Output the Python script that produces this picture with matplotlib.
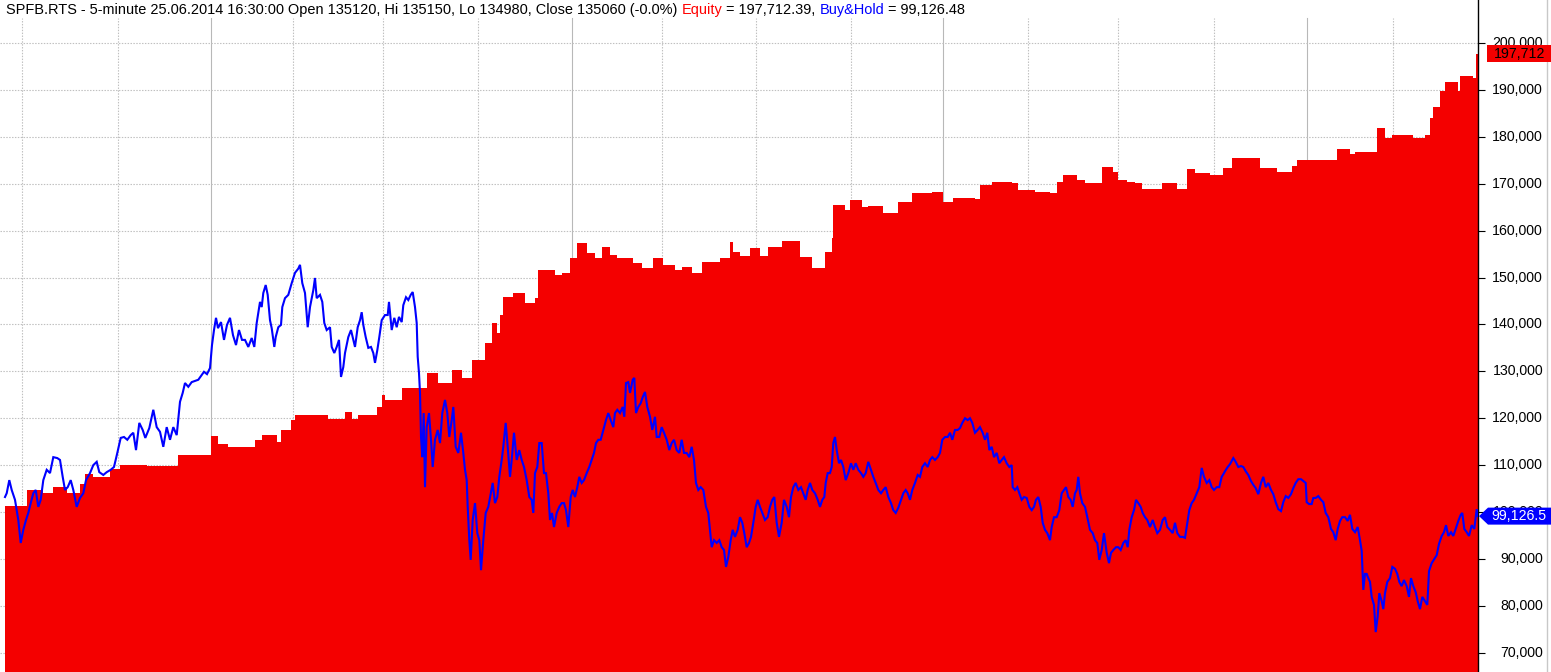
import numpy as np
import matplotlib
matplotlib.use("Agg")
import matplotlib.pyplot as plt
from matplotlib.transforms import IdentityTransform
from matplotlib.patches import Polygon, Rectangle
from matplotlib.lines import Line2D

# ---------------- DATA ----------------
title_info = "SPFB.RTS - 5-minute 25.06.2014 16:30:00 Open 135120, Hi 135150, Lo 134980, Close 135060 (-0.0%)"
final_equity = 197712.39
final_bh = 99126.48

# Equity: step levels (bar index where the level starts, value in thousands)
eq_bar = [5, 27, 43, 53, 67, 80, 85, 93, 110, 120, 147, 178, 211, 218, 228, 255, 262, 277, 281, 291,
          295, 328, 345, 352, 358, 377, 382, 385, 402, 427, 438, 452, 462, 472, 485, 492, 497, 500, 503, 513,
          525, 535, 538, 555, 562, 570, 577, 587, 595, 602, 610, 617, 633, 642, 653, 663, 675, 682, 692, 702,
          720, 730, 733, 740, 750, 760, 768, 782, 800, 812, 825, 832, 833, 845, 850, 862, 868, 883, 898, 912,
          932, 943, 953, 975, 980, 992, 1012, 1018, 1035, 1050, 1057, 1063, 1077, 1085, 1102, 1113, 1118, 1127, 1135, 1142,
          1162, 1177, 1187, 1195, 1210, 1223, 1232, 1260, 1277, 1292, 1297, 1337, 1350, 1355, 1377, 1385, 1392, 1413, 1425, 1430,
          1433, 1440, 1445, 1458, 1460, 1473, 1476]
eq_val = [101.3, 104.7, 104.0, 105.3, 104.0, 106.0, 108.1, 107.5, 109.2, 110.0, 109.8, 112.2, 116.2, 114.5, 113.9, 115.3, 116.4, 114.9, 117.5, 119.6,
          120.7, 119.8, 121.3, 119.8, 120.7, 122.4, 124.9, 123.9, 126.4, 129.6, 127.5, 130.3, 128.6, 132.4, 136.0, 140.3, 138.2, 142.0, 145.8, 146.7,
          144.6, 145.6, 151.6, 150.5, 151.0, 154.2, 157.4, 155.2, 154.2, 156.5, 154.8, 154.2, 153.1, 152.0, 154.2, 152.7, 151.6, 152.2, 151.0, 153.3,
          154.2, 157.6, 155.5, 154.6, 156.3, 154.6, 156.5, 157.8, 154.4, 152.0, 155.4, 158.4, 165.5, 164.4, 166.5, 165.0, 165.2, 163.8, 166.1, 168.0,
          168.2, 166.1, 167.0, 166.7, 169.7, 170.4, 170.1, 168.7, 168.2, 168.0, 170.4, 171.9, 170.8, 170.1, 173.6, 172.5, 170.8, 170.4, 170.1, 168.9,
          170.1, 168.9, 173.1, 172.3, 171.9, 173.3, 175.5, 173.3, 172.5, 173.8, 175.1, 177.4, 176.3, 176.8, 181.9, 179.7, 180.4, 179.7, 180.4, 184.0,
          186.4, 189.7, 191.7, 189.7, 193.0, 192.5, 197.712]
last_bar = 1478

# Buy & Hold (bar index, value in thousands)
bh_bar = [
    5, 6.7, 9.3, 11.7, 15, 18.3, 20.7, 23.3, 26, 28.3, 30.7, 33.3, 35.7, 38.3, 40.7, 43.3, 46.7, 50, 53.3, 57.3,
    60, 62.7, 65, 67.7, 70.7, 73.3, 76.7, 80, 83.3, 86, 90, 93.3, 96.7, 99.3, 103.3, 106.7, 110.7, 114, 117.3, 120.7,
    124, 127.3, 130.7, 133.3, 136, 139.3, 142.7, 145.3, 149.3, 153.3, 156.7, 160, 163.3, 166.7, 170, 173.3, 176.7, 180, 182.7, 185,
    188.3, 191.7, 198.3,
    201, 204, 207, 210, 212, 214, 216, 218, 221, 224, 227, 230, 233, 236, 239, 242,
    245, 248.3, 251.7, 254.3, 256.7, 260, 261.7, 263.3, 265.7, 267.7,
    270, 271.7, 274.3, 275.7, 278.3, 281, 282.3, 285, 288.3, 291.7,
    295, 298.3, 300, 302.3, 305, 307.7, 310, 313.3, 315, 316.7,
    320, 322.3, 324.3, 326.7, 330, 331.7, 334.3, 336.7, 339, 341,
    343.3, 345, 348.3, 351, 353.3, 355, 357.7, 360, 361.7, 363.3,
    365.7, 368.3, 371, 373.3, 375, 377.3, 379.3, 381.7, 385, 387.7,
    389, 391.7, 394.3, 396.7, 399, 401.7, 403.3, 406, 408.3, 410.7,
    412.7, 415, 416.7, 417.7, 419, 420, 421, 422.3, 423.7, 425,
    426.7, 429, 431, 432.7, 435, 437.7, 440, 442.3, 445, 447.3,
    449.3, 451.7, 453.3, 455.7, 458.3, 461, 463.3, 465, 466.7, 467.7,
    469.3, 470.7, 472.7, 475, 477.3, 479.3, 481, 483.3, 485.7, 488.3,
    492.7, 495, 497.3, 499.3, 501.7, 503.3, 505.7, 507.7, 510, 511.7,
    514, 516.7, 519.3, 521.7, 524, 526.7, 529.3, 531.7, 533.3, 535,
    537.3, 539.3, 541.7, 544, 546, 548.3, 550, 552, 554, 556.7,
    559.3, 561.7, 564, 566, 568.3, 570.7, 572.7, 575, 577.3, 579.3,
    581.7, 584, 586.7, 589.3, 591.7, 594, 596, 598.3, 600.7, 603.3,
    606, 608.3, 610.7, 613.3, 615, 617.3, 620, 622.7, 624.3, 626,
    628.3, 630, 632.7, 634.3, 636, 638.3, 640.7, 642.7, 645, 647.3,
    650, 652.3, 655, 656.7, 659.3, 661.7, 664, 666.7, 669.3, 671.7,
    674, 676.7, 679.3, 681.7, 684, 686.7, 689.3, 691.7, 694, 696,
    698.3, 700.7, 703.3, 706, 708.3, 710, 711.7, 714, 716.7, 719.3,
    721.7, 724, 726, 728.3, 730.7, 732.7,
    735, 737.7, 740, 742.3, 744.3, 746.7, 749, 751, 753.3, 755.7,
    757.7, 760, 762.3, 765, 767.7, 770, 772.3, 774.3, 776.7, 779,
    781.7, 784, 786.7, 789, 791, 793.3, 795.7, 798.3, 801, 803.3,
    805.7, 807.7, 810, 812.3, 815, 817.7, 820, 822.3, 824.3, 825.7,
    827.7, 830, 831.7, 833.3, 835, 836.7, 839, 841, 843.3, 845.7,
    848.3, 851, 853.3, 855.7, 858.3, 861, 863.3, 865.7, 868.3, 871,
    873.3, 875.7, 878.3, 881, 883.3, 885.7, 888.3, 891, 893.3, 895.7,
    898.3, 901, 903.3, 905.7, 907.7, 910, 912.3, 915, 917.7, 920,
    922.3, 925, 927.7, 930, 932.3, 935, 937.7, 940, 942.3, 945,
    947.7, 950, 952.3, 955, 957.7, 960, 962.3, 965, 967.7, 970,
    972.3, 975, 977.7, 980,
    982.7, 985, 987.3, 989.3, 991.7, 994, 996.7, 999.3, 1001.7, 1004,
    1006.7, 1009.3, 1011.7, 1012.7, 1015, 1017.3, 1019.3, 1021.7, 1024, 1026.7,
    1029.3, 1031.7, 1034, 1036, 1038.3, 1040.7, 1042.7, 1045, 1047.3, 1050,
    1051.7, 1054, 1056.7, 1059.3, 1061.7, 1064, 1066, 1068.3, 1070.7, 1072.7,
    1075, 1076.7, 1078.3, 1080, 1082.3, 1085, 1087.3, 1090, 1092.7, 1095,
    1097.3, 1099.3, 1101.7, 1104, 1106.7, 1109, 1111, 1113.3, 1116, 1118.3,
    1120.7, 1123.3, 1125.7, 1127.7, 1129.3, 1131.7, 1134, 1136, 1138.3, 1140.7,
    1142.7, 1145, 1147.3, 1150, 1152.7, 1155, 1157.3, 1160, 1162.7, 1165,
    1167.3, 1170, 1172.7, 1175, 1177.3, 1180, 1182.7, 1185, 1187.3, 1189.3,
    1191.7, 1194, 1196.7, 1199.3, 1201.7, 1204, 1206.7, 1209.3, 1211.7, 1214,
    1216.7, 1219.3, 1221.7, 1224,
    1225, 1227.7, 1230, 1233.3, 1235.7, 1238.3, 1241, 1243.3, 1245.7, 1248.3,
    1251, 1253.3, 1255.7, 1258.3, 1261, 1263.3, 1265.7, 1268.3, 1271, 1273.3,
    1275.7, 1278.3, 1281, 1283.3, 1285.7, 1288.3, 1291, 1293.3, 1295.7, 1298.3,
    1301, 1303.3, 1305.7, 1306.7, 1309, 1311.7, 1313.3, 1315.7, 1318.3, 1321,
    1323.3, 1325.7, 1328.3, 1331, 1333.3, 1335.7, 1337.7, 1340, 1342.3, 1345,
    1347.7, 1350, 1352.3, 1355, 1357.7, 1360, 1361.7, 1363.3, 1365, 1366.7,
    1368.3, 1370, 1371.7, 1374, 1375.7, 1377.7, 1379.3, 1381.7, 1383.3, 1385,
    1387.3, 1390, 1392.3, 1395, 1397.3, 1399.3, 1401.7, 1404, 1406.7, 1409,
    1411, 1413.3, 1415.7, 1417.7, 1420, 1422.3, 1425, 1427.3, 1429, 1431.7,
    1434.3, 1436.7, 1439, 1441.7, 1444, 1446, 1448.3, 1451, 1453.3, 1455.7,
    1458.3, 1460.7, 1462.3, 1464.3, 1466.7, 1469, 1471.7, 1474.3, 1476.7, 1478]
bh_val = [
    103.2, 104.0, 106.8, 104.7, 102.6, 98.3, 93.4, 96.2, 98.3, 99.8, 101.9, 104.0, 104.7, 101.1, 102.6, 106.8, 109.0, 108.3, 111.7, 111.5,
    111.1, 107.5, 104.7, 105.3, 106.8, 104.7, 101.1, 103.0, 104.0, 106.8, 108.3, 110.0, 110.7, 108.5, 107.9, 108.5, 109.0, 109.6, 112.6, 115.8,
    116.0, 115.4, 116.4, 116.9, 113.2, 119.0, 117.5, 115.8, 117.9, 121.8, 118.1, 117.1, 113.9, 118.1, 115.4, 118.1, 116.4, 123.5, 125.4, 127.5,
    126.7, 127.7, 128.2,
    129.0, 129.9, 129.4, 130.7, 135.6, 138.8, 141.4, 139.2, 140.5, 136.7, 139.9, 141.4, 137.7, 135.6, 138.8, 136.7,
    136.7, 135.2, 137.1, 135.2, 140.3, 144.8, 143.7, 146.7, 148.4, 146.3,
    140.9, 139.2, 135.2, 137.3, 139.4, 139.9, 143.7, 145.6, 146.3, 148.8,
    151.0, 151.9, 152.7, 148.8, 146.7, 139.4, 143.7, 147.3, 149.9, 145.6,
    146.3, 144.8, 140.3, 138.8, 139.4, 135.2, 133.9, 135.2, 136.7, 128.8,
    130.9, 133.9, 137.3, 138.8, 136.7, 135.2, 139.4, 140.9, 142.6, 139.9,
    137.3, 135.0, 135.2, 133.9, 131.8, 134.5, 137.3, 140.9, 142.0, 142.0,
    144.8, 138.8, 141.4, 139.4, 141.6, 140.5, 144.1, 145.8, 145.2, 146.3,
    146.9, 143.7, 140.3, 133.1, 129.6, 125.4, 116.0, 111.7, 121.1, 105.3,
    118.1, 121.1, 115.4, 109.6, 115.4, 117.5, 114.7, 121.1, 123.9, 121.1,
    116.0, 119.6, 122.4, 113.9, 112.6, 116.9, 112.6, 109.0, 106.8, 101.1,
    94.0, 89.8, 98.3, 101.9, 95.5, 94.0, 87.6, 94.0, 99.8, 101.1,
    106.2, 101.9, 103.2, 107.5, 111.1, 113.9, 119.0, 113.9, 107.5, 111.1,
    116.9, 111.1, 113.2, 111.1, 109.6, 106.8, 103.2, 102.6, 99.8, 108.3,
    109.6, 114.7, 114.7, 108.3, 108.3, 104.0, 98.3, 99.8, 96.8, 99.8,
    101.1, 101.9, 101.9, 100.4, 96.8, 103.2, 104.7, 103.2, 105.3, 107.5,
    106.2, 106.8, 108.3, 109.6, 111.1, 112.6, 114.7, 115.4, 115.4, 117.5,
    119.6, 121.1, 119.6, 118.1, 121.1, 121.8, 121.1, 122.4, 120.3, 127.5,
    127.7, 125.4, 128.2, 128.6, 121.1, 122.4, 123.2, 124.5, 125.6, 122.4,
    120.3, 117.5, 120.3, 116.0, 116.0, 118.1, 116.9, 115.4, 113.2, 114.7,
    115.4, 113.2, 112.6, 115.4, 112.6, 112.6, 111.7, 113.9, 111.1, 106.2,
    104.7, 105.3, 104.7, 101.1, 99.8, 96.2, 92.5, 94.0, 93.4, 94.0,
    92.5, 91.9, 88.3, 90.4, 94.0, 96.2,
    94.7, 96.2, 98.9, 97.7, 95.5, 92.5, 93.4, 94.7, 97.7, 101.1,
    102.6, 101.1, 99.8, 98.3, 98.9, 101.1, 102.6, 103.2, 97.7, 94.7,
    97.7, 102.6, 101.1, 98.9, 103.2, 105.3, 106.2, 104.7, 105.3, 104.0,
    102.6, 104.7, 106.2, 104.7, 104.0, 102.6, 101.1, 102.6, 103.2, 106.2,
    108.3, 108.3, 109.6, 114.7, 116.0, 113.2, 110.4, 111.1, 109.6, 106.8,
    108.3, 110.4, 109.0, 110.4, 109.0, 108.3, 107.5, 108.3, 110.7, 109.0,
    107.5, 106.2, 104.7, 104.0, 104.7, 105.3, 103.2, 101.9, 100.4, 99.8,
    100.9, 102.6, 104.0, 104.7, 104.0, 102.6, 104.7, 106.2, 107.9, 107.5,
    109.6, 110.4, 109.6, 111.1, 111.7, 111.1, 111.7, 112.6, 115.4, 116.0,
    116.0, 116.9, 115.4, 117.5, 117.5, 117.9, 119.0, 120.0, 119.6, 120.0,
    119.0, 116.9, 117.5, 118.1,
    116.9, 115.4, 116.9, 113.2, 113.9, 111.7, 112.6, 110.4, 111.1, 111.7,
    110.4, 109.6, 110.0, 105.3, 104.7, 105.3, 104.0, 102.6, 103.2, 103.0,
    101.1, 100.4, 101.1, 102.6, 103.2, 101.1, 97.7, 96.2, 95.5, 94.0,
    96.8, 98.9, 98.9, 100.4, 104.0, 104.7, 105.3, 103.2, 102.6, 101.1,
    104.0, 104.7, 107.5, 104.0, 101.9, 101.1, 98.9, 96.2, 95.5, 94.0,
    93.4, 89.8, 91.9, 95.5, 91.3, 89.1, 91.3, 91.9, 92.5, 92.5,
    91.9, 93.4, 94.0, 92.5, 96.2, 98.9, 100.4, 102.6, 101.9, 101.1,
    99.8, 98.9, 98.3, 96.8, 98.3, 96.8, 95.5, 96.2, 98.3, 98.9,
    96.8, 96.2, 95.5, 97.7, 95.5, 94.7, 94.7, 94.5, 97.7, 100.4,
    101.9, 102.6, 104.0, 105.3, 109.4, 107.5, 106.2, 106.8, 105.3, 104.7,
    105.3, 105.3, 107.5, 108.3,
    108.7, 109.6, 110.2, 111.5, 110.7, 109.6, 109.8, 109.6, 108.7, 107.9,
    106.6, 105.8, 105.1, 103.8, 106.2, 107.5, 105.3, 106.2, 104.7, 103.8,
    102.1, 100.6, 100.2, 102.1, 103.4, 103.0, 103.8, 105.1, 106.2, 107.0,
    107.0, 106.6, 106.2, 102.1, 101.7, 101.7, 103.0, 103.0, 103.4, 102.6,
    102.1, 99.8, 98.9, 96.4, 95.7, 94.0, 96.4, 98.1, 98.9, 98.9,
    98.1, 99.4, 96.4, 95.7, 96.8, 94.0, 91.7, 83.4, 86.8, 86.8,
    85.9, 85.1, 81.9, 80.2, 74.4, 77.8, 82.7, 81.0, 79.3, 82.7,
    85.1, 85.9, 88.3, 87.9, 86.8, 85.1, 84.2, 85.5, 84.2, 81.9,
    85.9, 84.2, 82.9, 81.0, 79.3, 81.9, 81.0, 80.2, 87.4, 89.1,
    90.0, 90.8, 93.2, 94.9, 95.7, 97.2, 94.9, 95.7, 94.9, 96.4,
    98.1, 99.4, 99.8, 96.4, 95.7, 94.9, 97.2, 96.4, 100.6, 99.126]

# Date grid (bar indices of period boundaries); month boundaries drawn solid
grid_bars = [22, 118, 211, 293, 383, 478, 572, 662, 756, 851, 943, 1028, 1118, 1214, 1307, 1393]
month_bars = [211, 572, 943, 1307]
y_ticks = list(range(70000, 200001, 10000))

# ---------------- STYLE ----------------
RED = '#f40000'
BLUE = '#0000ff'
GRID = '#c0c0c0'
FONT = 'Liberation Sans'

W, H = 1551, 672
PLOT_R = 1478
fig = plt.figure(figsize=(W / 100, H / 100), dpi=100)
fig.patch.set_facecolor('white')
ax = fig.add_axes([0, 0, PLOT_R / W, 1])
ax.set_facecolor('white')
ax.set_xlim(0, PLOT_R)
ax.set_ylim(65890, 209170)

# grid
for t in grid_bars:
    solid = t in month_bars
    ax.axvline(t, ymin=0, ymax=1 - 18 / H, color='#b8b8b8' if solid else GRID,
               lw=0.8, ls='-' if solid else (0, (1.3, 1.3)), zorder=0)
for v in y_ticks:
    ax.axhline(v, color=GRID, lw=0.8, ls=(0, (1.3, 1.3)), zorder=0)

# equity area
ex = np.array(eq_bar + [last_bar], dtype=float)
ev = np.array(eq_val + [eq_val[-1]]) * 1000
ax.fill_between(ex, ev, 0, step='post', color=RED, lw=0, zorder=2)

# buy & hold line
bx = np.array(bh_bar, dtype=float)
bv = np.array(bh_val) * 1000
ax.plot(bx, bv, color=BLUE, lw=1.5, zorder=3, solid_joinstyle='miter')

# axes look
for s in ['left', 'top', 'bottom']:
    ax.spines[s].set_visible(False)
ax.spines['right'].set_color('black')
ax.spines['right'].set_linewidth(1.0)
ax.set_xticks([])
ax.yaxis.tick_right()
ax.set_yticks(y_ticks)
ax.tick_params(axis='y', which='both', direction='out', length=5, width=0.8,
               color='black', labelright=False, labelleft=False)

fig.canvas.draw()
ident = IdentityTransform()

def ydisp(v):
    return ax.transData.transform((0, v))[1]

# y tick labels, right-aligned
for v in y_ticks:
    fig.text(1543, ydisp(v), f"{v:,}", transform=ident, ha='right', va='center',
             fontsize=10.2, family=FONT, color='black', zorder=5)

# right border line
fig.add_artist(Line2D([1547, 1547], [0, H], transform=ident, color='#c8c8c8', lw=1, zorder=4))

# equity value label
ye = ydisp(final_equity)
fig.add_artist(Rectangle((1487, ye - 8.5), W - 1487, 17, transform=ident, facecolor=RED,
                         edgecolor='none', zorder=6))
fig.text(1545, ye, f"{final_equity:,.0f}", transform=ident, ha='right', va='center',
         fontsize=10.2, family=FONT, color='black', zorder=7)

# buy&hold value label (arrow shaped)
yb = ydisp(final_bh)
fig.add_artist(Polygon([(1479, yb), (1488, yb + 8.5), (W, yb + 8.5), (W, yb - 8.5), (1488, yb - 8.5)],
                       closed=True, transform=ident, facecolor=BLUE, edgecolor='none', zorder=6))
fig.text(1547, yb, f"{final_bh:,.1f}", transform=ident, ha='right', va='center',
         fontsize=10.2, family=FONT, color='white', zorder=7)

# title (multi-coloured)
renderer = fig.canvas.get_renderer()
TSIZE = 10.45
pieces = [(title_info, 'black'), ("Equity", '#ff0000'), (f"= {final_equity:,.2f},", 'black'),
          ("Buy&Hold", BLUE), (f"= {final_bh:,.2f}", 'black')]
probe1 = fig.text(0, 0, "x x", fontsize=TSIZE, family=FONT, transform=ident)
probe2 = fig.text(0, 0, "xx", fontsize=TSIZE, family=FONT, transform=ident)
space_w = probe1.get_window_extent(renderer).width - probe2.get_window_extent(renderer).width
probe1.remove(); probe2.remove()
x = 6
base = H - 14
for txt, col in pieces:
    t = fig.text(x, base, txt, transform=ident, ha='left', va='baseline', fontsize=TSIZE,
                 family=FONT, color=col, zorder=8)
    x = t.get_window_extent(renderer).x1 + space_w

fig.savefig('out.png', dpi=100, facecolor='white')
